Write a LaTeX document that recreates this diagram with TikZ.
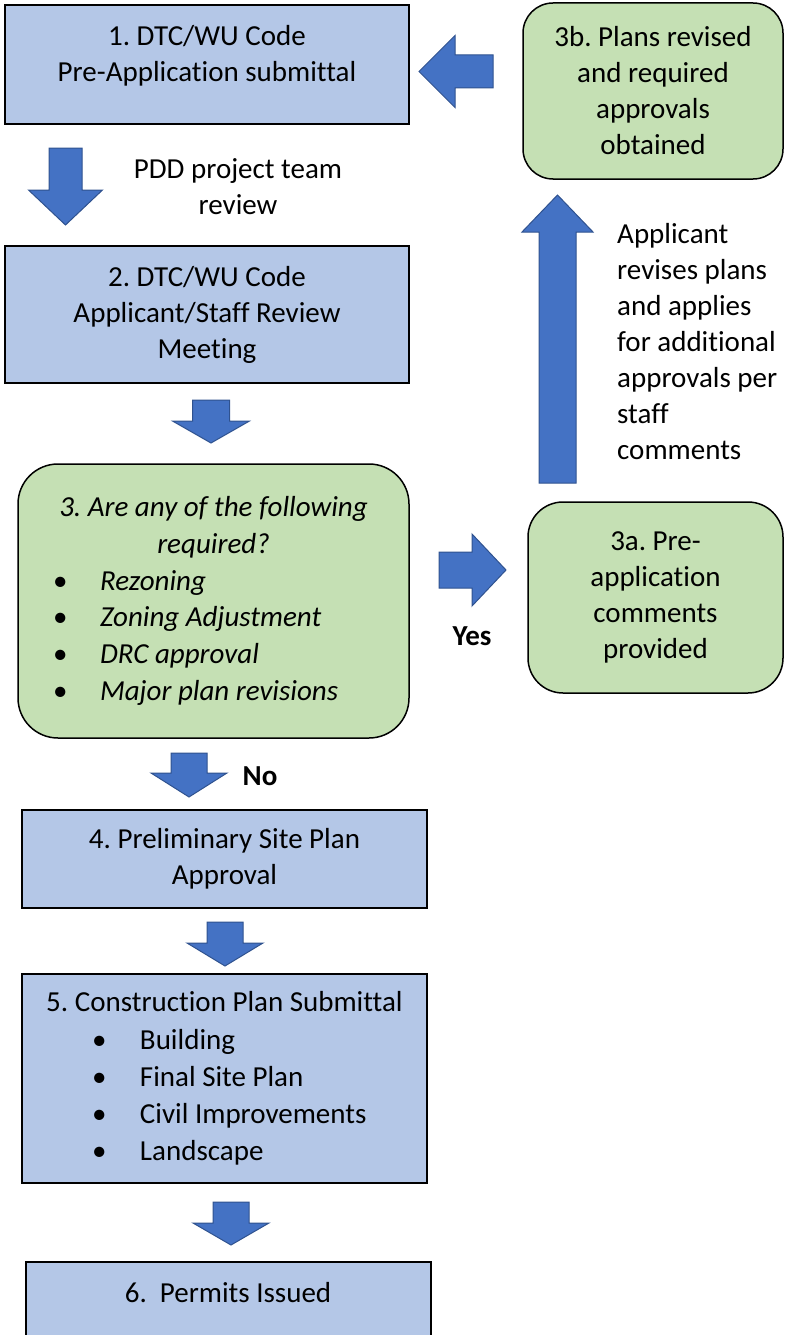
\documentclass[tikz,border=0pt]{standalone}
\usepackage{fontspec}
\setmainfont{Carlito}[Ligatures=NoCommon]
\usepackage{tikz}
\usetikzlibrary{positioning}

\definecolor{boxblue}{HTML}{B4C7E7}
\definecolor{boxgreen}{HTML}{C5E0B4}
\definecolor{arrowblue}{HTML}{4472C4}
\definecolor{arrowedge}{HTML}{2F528F}

% fat arrow: tail, angle, length, head length, half shaft, half head
\newcommand{\blockarrow}[6]{%
  \begin{scope}[shift={(#1)},rotate=#2]
    \filldraw[fatarrow] (0,-#5) -- (#3-#4,-#5) -- (#3-#4,-#6) -- (#3,0)
      -- (#3-#4,#6) -- (#3-#4,#5) -- (0,#5) -- cycle;
  \end{scope}}
% bullet line: indent, bullet box, text
\newcommand{\bulletline}[3]{\makebox[\linewidth][l]{\hspace*{#1}\makebox[#2][l]{\upshape\textbullet}#3}}

\begin{document}
\frenchspacing
\begin{tikzpicture}[x=1pt,y=-1pt,
    font=\fontsize{29}{36}\selectfont,
    bluebox/.style={draw,line width=1.5pt,fill=boxblue,inner sep=0pt},
    greenbox/.style={draw,line width=1.5pt,fill=boxgreen,inner sep=0pt,rounded corners=#1},
    greenbox/.default=30pt,
    fatarrow/.style={fill=arrowblue,draw=arrowedge,line width=1pt},
    lbl/.style={inner sep=0pt}]

    \useasboundingbox (0,0) rectangle (784,1335);

    % left column
    \node[bluebox,minimum width=404pt,minimum height=119pt] (box1) at (207,64.5) {};
    \node[lbl,align=center] (t1) at (207,56) {1. DTC/WU Code\\Pre-Application submittal};

    \blockarrow{65.5,148}{-90}{77}{35}{16.5}{37}
    \node[lbl,align=center] (pdd) at (238,187) {PDD project team\\review};

    \node[bluebox,minimum width=404pt,minimum height=137pt,align=center] (box2) at (207,314.5)
      {2. DTC/WU Code\\Applicant/Staff Review\\Meeting};

    \blockarrow{211,400}{-90}{43}{22}{18.5}{38.5}

    \node[greenbox=40pt,minimum width=391pt,minimum height=274pt,text width=371pt,align=flush center,
      font=\fontsize{29}{36.8}\selectfont\itshape] (box3) at (213.5,601)
      {3. Are any of the following\\required?\\
       \bulletline{25pt}{47pt}{Rezoning}\\
       \bulletline{25pt}{47pt}{Zoning Adjustment}\\
       \bulletline{25pt}{47pt}{DRC approval}\\
       \bulletline{25pt}{47pt}{Major plan revisions}};

    \blockarrow{189,753}{-90}{44}{24}{18}{38}
    \node[lbl,anchor=base,font=\fontsize{29}{36}\selectfont\bfseries] (no) at (260,785) {No};

    \node[bluebox,minimum width=405pt,minimum height=98pt,align=center] (box4) at (224.5,859)
      {4. Preliminary Site Plan\\Approval};

    \blockarrow{225,922}{-90}{44}{23}{18}{38}

    \node[bluebox,minimum width=405pt,minimum height=209pt,text width=385pt,align=flush center,
      font=\fontsize{29}{37.2}\selectfont] (box5) at (224.5,1078.5)
      {5. Construction Plan Submittal\\
       \bulletline{60pt}{48pt}{Building}\\
       \bulletline{60pt}{48pt}{Final Site Plan}\\
       \bulletline{60pt}{48pt}{Civil Improvements}\\
       \bulletline{60pt}{48pt}{Landscape}};

    \blockarrow{231,1202}{-90}{43}{22}{18}{38}

    \node[bluebox,minimum width=405pt,minimum height=83pt] (box6) at (228.5,1303.5) {};
    \node[lbl,anchor=base] (t6) at (228,1302) {6.~ Permits Issued};

    % right column
    \node[greenbox=30pt,minimum width=260pt,minimum height=176pt,align=center] (box3b) at (653,91)
      {3b. Plans revised\\and required\\approvals\\obtained};

    \blockarrow{493,71.5}{180}{74}{36}{16.5}{36}

    \blockarrow{557.5,483}{90}{288}{37}{18.5}{35.5}
    \node[lbl,anchor=west,align=left] (revise) at (617,342)
      {Applicant\\revises plans\\and applies\\for additional\\approvals per\\staff\\comments};

    \blockarrow{439,570}{0}{67}{34}{18}{36}
    \node[lbl,anchor=base,font=\fontsize{29}{36}\selectfont\bfseries] (yes) at (472,645) {Yes};

    \node[greenbox=35pt,minimum width=255pt,minimum height=191pt,align=center] (box3a) at (655.5,597.5)
      {3a. Pre-\\application\\comments\\provided};

\end{tikzpicture}
\end{document}
